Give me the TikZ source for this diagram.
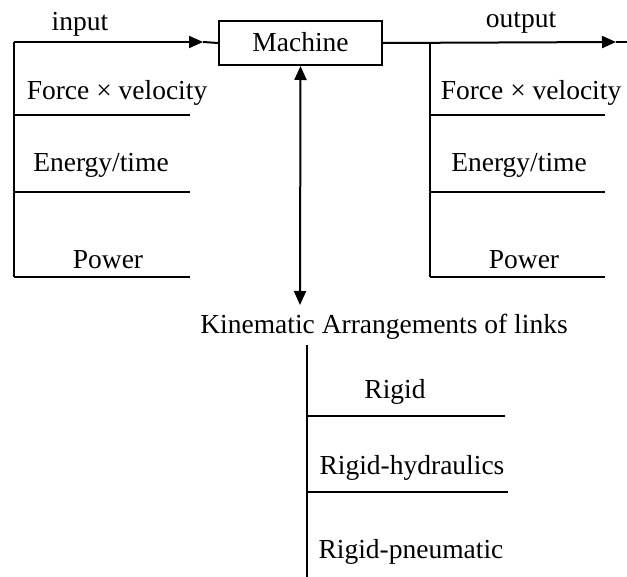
\documentclass[tikz,border=0pt]{standalone}
\usepackage{fontspec}
\setmainfont{Liberation Serif}
\usetikzlibrary{arrows.meta,positioning}

\begin{document}
\begin{tikzpicture}[x=1pt,y=-1pt,line width=2pt,font=\fontsize{27.5}{32}\selectfont,
	>={Triangle[length=14pt,width=12pt]}]
	\useasboundingbox (0,0) rectangle (627,577);
	\node[draw,minimum width=163pt,minimum height=44pt,inner sep=0pt] (mach) at (300.5,43){\raisebox{2pt}{Machine}};
	\node (inp) at (80,24){input};
	\node (outp) at (521,23){output};
	\node (kin) at (384,327){Kinematic Arrangements of links};
	% input side
	\node (fvL) at (117,93){Force × velocity};
	\node (etL) at (101,165){Energy/time};
	\node (pwL) at (108,260){Power};
	% output side
	\node (fvR) at (531,93){Force × velocity};
	\node (etR) at (519,165){Energy/time};
	\node (pwR) at (524,260){Power};
	% links
	\node (rg) at (395,392){Rigid};
	\node (rgh) at (412,468){Rigid-hydraulics};
	\node (rgp) at (411,552){Rigid-pneumatic};
	\coordinate (inL) at (14,42);
	\coordinate (inTip) at (203,42);
	\coordinate (outL) at (430,42);
	\coordinate (outTip) at (616,42);
	\coordinate (outEnd) at (627,42);
	\coordinate (kinArr) at (300,305);
	\coordinate (kinL) at (307,345);
	\coordinate (kinB) at (307,577);
	\foreach \n/\y in {1/115,2/192,3/277}{
		\coordinate (inL\n) at (14,\y); \coordinate (inR\n) at (190,\y);
		\coordinate (outL\n) at (430,\y); \coordinate (outR\n) at (605,\y);
	}
	\coordinate (kinL1) at (307,416); \coordinate (kinR1) at (505,416);
	\coordinate (kinL2) at (307,492); \coordinate (kinR2) at (508,492);
	\draw[->](inL)--(inTip); \draw(inTip)--(mach.west);
	\draw[->](mach.east)--(outTip); \draw(outTip)--(outEnd);
	\draw(inL)--(inL3); \draw(outL)--(outL3);
	\foreach \n in {1,2,3}{
		\draw(inL\n)--(inR\n); \draw(outL\n)--(outR\n);
	}
	\draw[<->](mach.south)--(kinArr);
	\draw(kinL)--(kinB);
	\draw(kinL1)--(kinR1); \draw(kinL2)--(kinR2);
\end{tikzpicture}
\end{document}
